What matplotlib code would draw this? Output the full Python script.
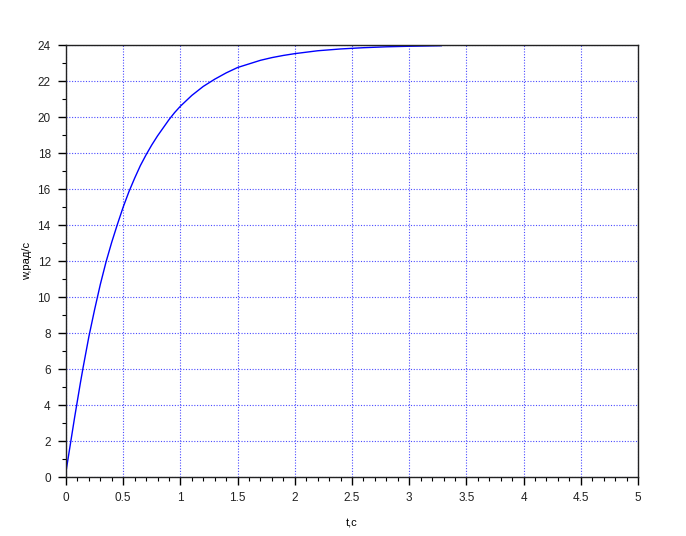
import matplotlib
matplotlib.use('Agg')
import matplotlib.pyplot as plt
from matplotlib.ticker import MultipleLocator

# values
t = [0.0, 0.025, 0.05, 0.075, 0.1, 0.125, 0.15, 0.2, 0.25, 0.3, 0.35, 0.4, 0.45, 0.5,
     0.55, 0.6, 0.65, 0.7, 0.75, 0.8, 0.85, 0.9, 0.95, 1.0, 1.1, 1.2, 1.3, 1.4, 1.5,
     1.6, 1.7, 1.8, 1.9, 2.0, 2.2, 2.4, 2.6, 2.8, 3.0, 3.28]
w = [0.3, 1.3, 2.3, 3.3, 4.25, 5.2, 6.1, 7.8, 9.3, 10.7, 11.95, 13.05, 14.05, 15.0,
     15.85, 16.6, 17.3, 17.9, 18.45, 18.95, 19.4, 19.85, 20.25, 20.6, 21.2, 21.7, 22.1,
     22.45, 22.75, 22.95, 23.15, 23.3, 23.42, 23.52, 23.68, 23.78, 23.85, 23.9, 23.93, 23.96]

xticks = [0, 0.5, 1, 1.5, 2, 2.5, 3, 3.5, 4, 4.5, 5]
xticklabels = ['0', '0.5', '1', '1.5', '2', '2.5', '3', '3.5', '4', '4.5', '5']
yticks = list(range(0, 25, 2))

plt.rcParams['font.family'] = ['Liberation Sans', 'DejaVu Sans']

fig = plt.figure(figsize=(6.86, 5.36), dpi=100)
ax = fig.add_axes([66/686, 1 - 477/536, (638 - 66)/686, (477 - 45)/536])

ax.plot(t, w, color='#0000ff', lw=1.0)

ax.set_xlim(0, 5)
ax.set_ylim(0, 24)
ax.set_xticks(xticks)
ax.set_xticklabels(xticklabels)
ax.set_yticks(yticks)
ax.xaxis.set_minor_locator(MultipleLocator(0.1))
ax.yaxis.set_minor_locator(MultipleLocator(1))

ax.tick_params(which='major', direction='out', length=6, width=1, labelsize=8.5,
               labelcolor='#222222', pad=5)
ax.tick_params(which='minor', direction='out', length=3, width=0.8)
ax.tick_params(top=False, right=False)

for s in ax.spines.values():
    s.set_linewidth(1.0)
    s.set_color('#222222')

ax.grid(True, which='major', color='#4a4aff', linestyle=(0, (1, 1.5)), lw=0.8)
ax.set_axisbelow(True)

ax.set_xlabel('t,c', fontsize=8, labelpad=10)
ax.set_ylabel('w,рад/с', fontsize=8, labelpad=4)

fig.savefig('out.png', dpi=100)
